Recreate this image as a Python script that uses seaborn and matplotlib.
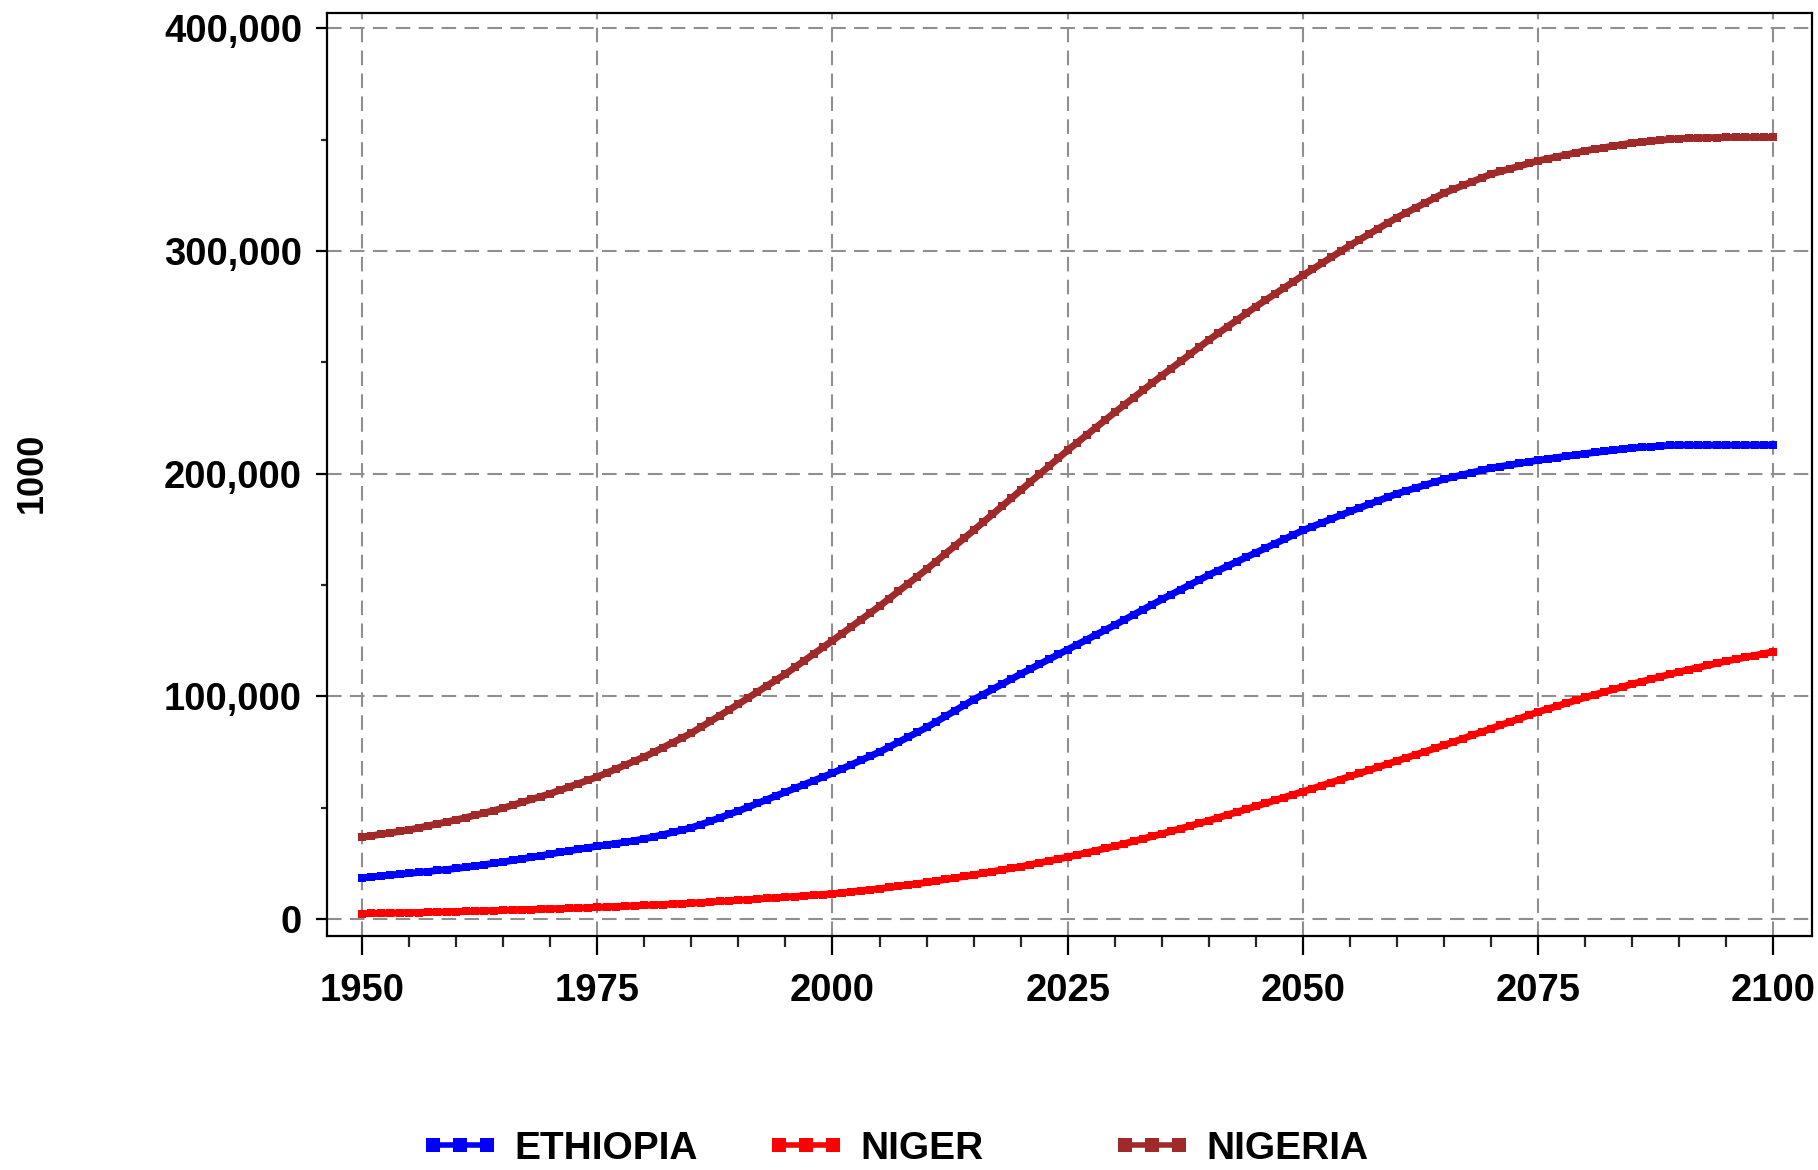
import matplotlib

matplotlib.use("Agg")
import matplotlib.pyplot as plt
import numpy as np
import pandas as pd
import seaborn as sns
from matplotlib.lines import Line2D
from matplotlib.ticker import FuncFormatter, MultipleLocator

# population, thousands
years = list(range(1950, 2101))

ethiopia = [
    18500, 18900, 19300, 19700, 20100, 20500, 20900, 21300, 21800, 22200,
    22700, 23200, 23800, 24400, 25000, 25600, 26300, 27000, 27700, 28400,
    29200, 29900, 30600, 31300, 32000, 32700, 33300, 33900, 34500, 35200,
    36000, 36900, 37900, 38900, 39900, 41000, 42400, 43900, 45400, 47000,
    48500, 50200, 51900, 53600, 55300, 57000, 58700, 60400, 62100, 63800,
    65500, 67400, 69300, 71200, 73100, 75000, 77200, 79400, 81600, 83800,
    86000, 88500, 91000, 93500, 96000, 98500, 100800, 103100, 105400, 107700,
    110000, 112200, 114400, 116600, 118800, 121000, 123200, 125400, 127600, 129800,
    132000, 134300, 136600, 138900, 141200, 143500, 145700, 147900, 150100, 152300,
    154500, 156500, 158500, 160500, 162500, 164500, 166500, 168500, 170500, 172500,
    174500, 176200, 177900, 179600, 181300, 183000, 184600, 186200, 187800, 189400,
    191000, 192300, 193600, 194900, 196200, 197500, 198500, 199500, 200500, 201500,
    202500, 203200, 203900, 204600, 205300, 206000, 206600, 207200, 207800, 208400,
    209000, 209500, 210000, 210500, 211000, 211500, 211800, 212100, 212400, 212700,
    212800, 212800, 212800, 212800, 212800, 212800, 212800, 212800, 212800, 212800,
    212800,
]

niger = [
    2400, 2480, 2560, 2640, 2720, 2800, 2900, 3000, 3100, 3200,
    3300, 3420, 3540, 3660, 3780, 3900, 4020, 4140, 4260, 4380,
    4500, 4640, 4780, 4920, 5060, 5200, 5380, 5560, 5740, 5920,
    6100, 6300, 6500, 6700, 6900, 7100, 7360, 7620, 7880, 8140,
    8400, 8680, 8960, 9240, 9520, 9800, 10100, 10400, 10700, 11000,
    11300, 11760, 12220, 12680, 13140, 13600, 14160, 14720, 15280, 15840,
    16400, 17080, 17760, 18440, 19120, 19800, 20540, 21280, 22020, 22760,
    23500, 24360, 25220, 26080, 26940, 27800, 28780, 29760, 30740, 31720,
    32700, 33800, 34900, 36000, 37100, 38200, 39400, 40600, 41800, 43000,
    44200, 45480, 46760, 48040, 49320, 50600, 51920, 53240, 54560, 55880,
    57200, 58560, 59920, 61280, 62640, 64000, 65400, 66800, 68200, 69600,
    71000, 72400, 73800, 75200, 76600, 78000, 79500, 81000, 82500, 84000,
    85500, 87000, 88500, 90000, 91500, 93000, 94300, 95600, 96900, 98200,
    99500, 100700, 101900, 103100, 104300, 105500, 106600, 107700, 108800, 109900,
    111000, 111960, 112920, 113880, 114840, 115800, 116640, 117480, 118320, 119160,
    120000,
]

nigeria = [
    36800, 37400, 38000, 38700, 39300, 40000, 40900, 41800, 42700, 43600,
    44500, 45500, 46600, 47600, 48700, 49800, 51100, 52400, 53700, 55000,
    56300, 57800, 59300, 60800, 62300, 63800, 65600, 67400, 69200, 71000,
    72800, 74900, 77000, 79200, 81300, 83500, 86100, 88700, 91300, 93900,
    96500, 99200, 101900, 104600, 107300, 110000, 113000, 116000, 119000, 122000,
    125000, 128100, 131200, 134300, 137400, 140500, 143800, 147100, 150400, 153700,
    157000, 160500, 164000, 167500, 171000, 174500, 178100, 181700, 185300, 188900,
    192500, 196100, 199700, 203300, 206900, 210500, 213900, 217300, 220700, 224100,
    227500, 230800, 234100, 237400, 240700, 244000, 247200, 250400, 253600, 256800,
    260000, 263000, 266000, 269000, 272000, 275000, 277800, 280600, 283400, 286200,
    289000, 291700, 294400, 297100, 299800, 302500, 305000, 307500, 310000, 312500,
    315000, 317200, 319400, 321600, 323800, 326000, 327700, 329400, 331100, 332800,
    334500, 335700, 336900, 338100, 339300, 340500, 341400, 342300, 343200, 344100,
    345000, 345700, 346400, 347100, 347800, 348500, 348900, 349300, 349700, 350100,
    350500, 350600, 350700, 350800, 350900, 351000, 351000, 351000, 351000, 351000,
    351000,
]

countries = ["ETHIOPIA", "NIGER", "NIGERIA"]
colors = {"ETHIOPIA": "#0000FF", "NIGER": "#FF0000", "NIGERIA": "#A0292A"}
x_ticks = [1950, 1975, 2000, 2025, 2050, 2075, 2100]
y_ticks = [0, 100000, 200000, 300000, 400000]
y_label = "1000"

df = pd.concat(
    [
        pd.DataFrame({"year": years, "pop": vals, "country": name})
        for name, vals in zip(countries, [ethiopia, niger, nigeria])
    ],
    ignore_index=True,
)

sns.set_style("ticks")
plt.rcParams["font.family"] = ["Liberation Sans", "DejaVu Sans"]
plt.rcParams["font.weight"] = "bold"
plt.rcParams["text.color"] = "black"
plt.rcParams["axes.labelcolor"] = "black"

fig = plt.figure(figsize=(18.18, 11.7), dpi=100)
ax = fig.add_axes([0.1799, 0.2, 0.8168, 0.7889])

sns.lineplot(
    data=df,
    x="year",
    y="pop",
    hue="country",
    palette=colors,
    marker="s",
    markersize=6,
    markeredgewidth=0,
    linewidth=5,
    legend=False,
    ax=ax,
    zorder=3,
)

ax.set_xlim(1946.28, 2104.11)
ax.set_ylim(-7634, 406871)
ax.set_xticks(x_ticks)
ax.set_yticks(y_ticks)
ax.xaxis.set_minor_locator(MultipleLocator(5))
ax.yaxis.set_minor_locator(MultipleLocator(50000))
ax.yaxis.set_major_formatter(FuncFormatter(lambda v, _: f"{int(v):,}"))
ax.set_xlabel("")
ax.set_ylabel("")

ax.grid(True, which="major", color="#8f8f8f", linewidth=1.5, linestyle=(0, (7, 4)), zorder=1)
ax.set_axisbelow(True)

for side in ["left", "right", "top", "bottom"]:
    ax.spines[side].set_visible(True)
    ax.spines[side].set_color("black")
    ax.spines[side].set_linewidth(1.6)

ax.tick_params(axis="x", which="major", direction="out", length=13.5, width=1.6,
               pad=13, labelsize=27.5, colors="black")
ax.tick_params(axis="x", which="minor", direction="out", length=8, width=1.6)
ax.tick_params(axis="y", which="major", direction="out", length=8, width=1.6,
               pad=10, labelsize=27.5, colors="black")
ax.tick_params(axis="y", which="minor", direction="out", length=4.3, width=1.6)
for lbl in ax.get_xticklabels() + ax.get_yticklabels():
    lbl.set_fontweight("bold")

fig.text(32 / 1818, 1 - 473 / 1170, y_label, rotation=90, ha="center", va="center",
         fontsize=26, fontweight="bold", color="black")

legend_x = [421 / 1818, 767 / 1818, 1113 / 1818]
for name, lx in zip(countries, legend_x):
    handle = Line2D([0], [0], color=colors[name], linewidth=4, marker="s",
                    markersize=10, markeredgewidth=0)
    leg = fig.legend(
        handles=[handle],
        labels=[name],
        loc="center left",
        bbox_to_anchor=(lx, 0.018),
        frameon=False,
        borderpad=0,
        borderaxespad=0,
        handlelength=2.0,
        handletextpad=0.4,
        numpoints=3,
        prop={"size": 28, "weight": "bold"},
    )
    for t in leg.get_texts():
        t.set_color("black")

plt.savefig("out.png", dpi=100)
plt.close()
